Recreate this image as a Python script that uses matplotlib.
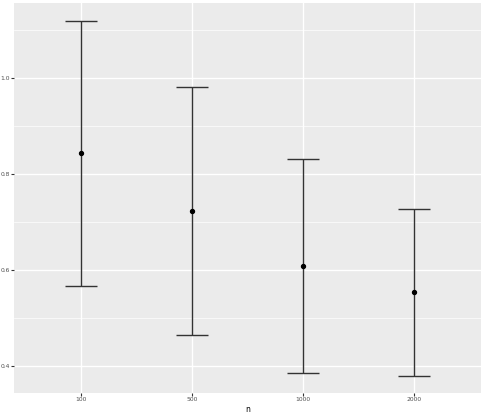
import matplotlib as mpl
from matplotlib import pyplot as plt
import numpy as np

mpl.rcParams["font.family"] = ["DejaVu Sans"]

n_labels = ["100", "500", "1000", "2000"]
mean = [0.844, 0.723, 0.608, 0.554]
lower = [0.567, 0.465, 0.385, 0.379]
upper = [1.119, 0.981, 0.831, 0.727]

fig = plt.figure(figsize=(4.85, 4.15), dpi=100)
ax = fig.add_axes([14 / 485, 22 / 415, 467 / 485, 390 / 415])
ax.set_facecolor("#EBEBEB")

x = np.arange(1, len(n_labels) + 1)
mean = np.array(mean)
yerr = [mean - np.array(lower), np.array(upper) - mean]

ax.errorbar(x, mean, yerr=yerr, fmt="none", ecolor="#333333",
            elinewidth=1.0, capsize=11.5, capthick=1.0, zorder=3)
ax.scatter(x, mean, s=8, color="black", zorder=4)

ax.set_xlim(0.4, 4.6)
ax.set_ylim(0.344, 1.156)
ax.set_xticks(x)
ax.set_xticklabels(n_labels)
ax.set_yticks([0.4, 0.6, 0.8, 1.0])
ax.set_yticklabels(["0.4", "0.6", "0.8", "1.0"])
ax.set_yticks([0.5, 0.7, 0.9, 1.1], minor=True)

ax.grid(which="major", color="white", linewidth=1.0)
ax.grid(which="minor", axis="y", color="white", linewidth=0.5)
ax.set_axisbelow(True)
for s in ax.spines.values():
    s.set_visible(False)
ax.tick_params(which="major", length=2, width=0.8, color="#333333",
               labelsize=4.3, labelcolor="#4D4D4D", pad=1.2)
ax.tick_params(which="minor", length=0)
ax.set_xlabel("n", fontsize=5.5, color="black", labelpad=2)

fig.savefig("out.png", dpi=100)
